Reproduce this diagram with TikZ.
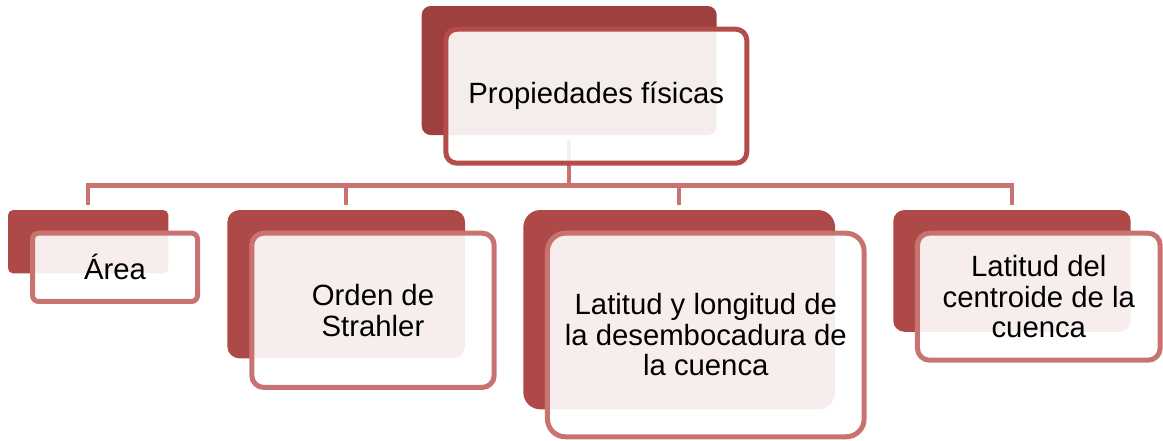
\documentclass[tikz,border=0pt]{standalone}
\usepackage{fontspec}
\setmainfont{Liberation Sans}
\definecolor{darkred}{HTML}{AD4A47}
\definecolor{topred}{HTML}{9D403F}
\definecolor{edgered}{HTML}{C97371}
\definecolor{topedge}{HTML}{B34C4A}
\begin{document}
\begin{tikzpicture}[x=1pt,y=-1pt,font=\fontsize{29.3}{30.5}\selectfont,
	back/.style={fill=darkred,draw=none,inner sep=0,outer sep=0},
	front/.style={draw=edgered,line width=5pt,fill=white,fill opacity=0.9,text opacity=1,
	  inner sep=0,align=center,text=black},
	link/.style={draw=edgered,line width=4.5pt,shorten >=5pt}]
	\useasboundingbox (0,0) rectangle (1163,440);
	
	%shadow boxes
	\node[back,fill=topred,minimum width=295,minimum height=129,rounded corners=9] (propbg) at (569.2,70.5) {}; %top
	\node[back,minimum width=160.3,minimum height=63.3,rounded corners=5] (areabg) at (88.2,241.7) {}; %area
	\node[back,minimum width=237.7,minimum height=148.3,rounded corners=12] (ordenbg) at (346.2,284.2) {}; %strahler
	\node[back,minimum width=311.7,minimum height=199.3,rounded corners=17] (latbg) at (679.2,309.7) {}; %outlet
	\node[back,minimum width=237.4,minimum height=121.7,rounded corners=11] (centbg) at (1012,270.9) {}; %centroid
	
	%connectors
	\coordinate (bus) at (569.2,185.5);
	\draw[link,shorten >=0pt,shorten <=5pt] (propbg) -- (bus);
	\foreach \n in {areabg,ordenbg,latbg,centbg}
	  \draw[link] (bus) -| (\n);
	
	%text boxes
	\node[front,draw=topedge,minimum width=301,minimum height=134,rounded corners=11] (prop) at (596.3,96.2) {Propiedades físicas};
	\node[front,minimum width=165,minimum height=68.3,rounded corners=6] (area) at (115,267.3) {Área};
	\node[front,minimum width=242.4,minimum height=154.3,rounded corners=12] (orden) at (373,310.3) {Orden de\\Strahler};
	\node[front,minimum width=316.7,minimum height=203.6,rounded corners=18] (lat) at (705.8,335) {Latitud y longitud de\\la desembocadura de\\la cuenca};
	\node[front,minimum width=242.7,minimum height=127,rounded corners=12] (cent) at (1038.8,296.7) {Latitud del\\centroide de la\\cuenca};
\end{tikzpicture}
\end{document}
